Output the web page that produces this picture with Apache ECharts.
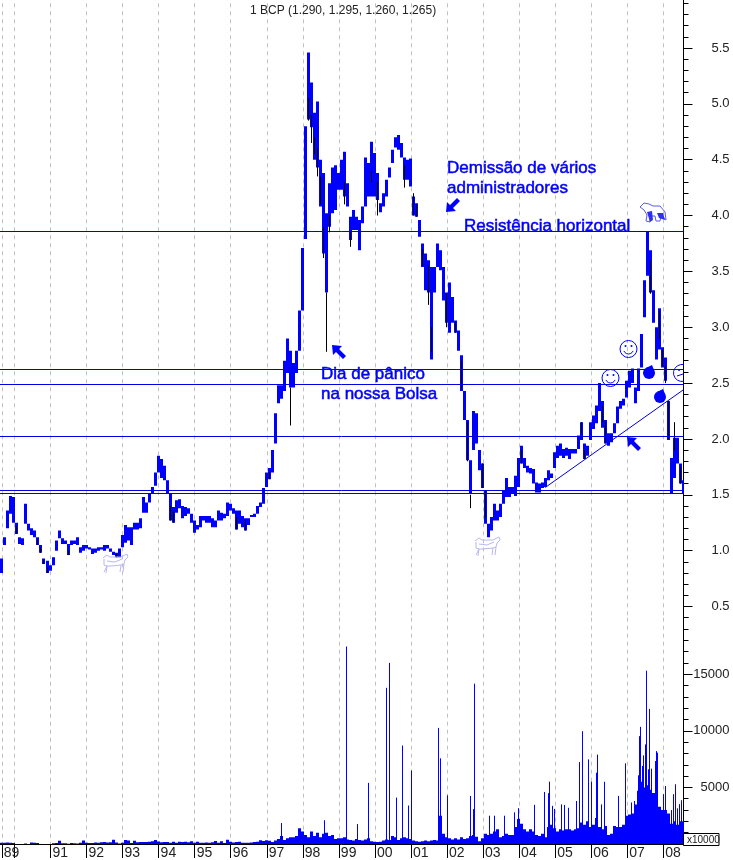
<!DOCTYPE html>
<html><head><meta charset="utf-8">
<style>html,body{margin:0;padding:0;background:#fff}#c{width:733px;height:860px}</style>
<script src="https://cdn.jsdelivr.net/npm/echarts@6/dist/echarts.min.js"></script>
</head><body><div id="c"></div>
<script>
const startYear = 1989.64, monthsPerYear = 12;
const priceHigh = [.93,1.12,1.36,1.49,1.48,1.25,1.12,1.11,1.42,1.24,1.20,1.18,1.12,1.05,.93,.91,.87,.94,1.09,1.18,1.11,1.09,1.06,1.09,1.09,1.12,1.03,1.05,1.05,1.03,1.02,1.02,1.03,1.03,1.05,1.05,1.02,.99,.98,1.02,1.14,1.23,1.21,1.21,1.25,1.25,1.29,1.48,1.43,1.51,1.57,1.70,1.85,1.82,1.76,1.63,1.51,1.39,1.45,1.46,1.40,1.39,1.38,1.33,1.27,1.23,1.31,1.31,1.31,1.31,1.29,1.27,1.36,1.34,1.33,1.43,1.42,1.38,1.36,1.36,1.31,1.29,1.29,1.32,1.33,1.40,1.43,1.56,1.70,1.74,1.90,2.23,2.48,2.48,2.70,2.90,2.79,2.68,2.79,3.15,3.71,4.80,5.46,5.19,4.92,5.02,4.50,4.38,4.02,4.29,4.43,4.45,4.38,4.50,4.57,4.29,3.99,4.05,3.99,3.96,4.08,4.52,4.47,4.66,4.56,4.38,4.11,4.20,4.32,4.43,4.59,4.70,4.72,4.65,4.52,4.50,4.51,4.17,4.11,3.96,3.75,3.66,3.60,3.54,3.54,3.75,3.69,3.54,3.31,3.40,3.27,3.06,2.97,2.75,2.43,2.17,1.81,2.25,2.23,1.90,1.78,1.54,1.24,1.30,1.42,1.36,1.42,1.54,1.65,1.57,1.57,1.67,1.83,1.94,1.83,1.76,1.74,1.73,1.61,1.60,1.61,1.65,1.72,1.69,1.88,1.94,1.96,1.91,1.92,1.91,1.91,1.91,2.03,2.15,1.96,1.94,2.15,2.21,2.30,2.50,2.34,2.17,2.05,2.05,2.14,2.29,2.34,2.36,2.52,2.61,2.63,2.46,2.63,2.94,3.42,3.86,3.69,3.33,3.00,3.17,2.82,2.73,2.34,1.83,2.01,2.01,1.78,1.63];
const priceLow = [.80,1.05,1.20,1.33,1.25,1.15,1.06,1.05,1.24,1.18,1.14,1.12,1.05,.98,.88,.80,.82,.87,1.0,1.11,1.06,1.06,.96,1.05,1.06,1.05,.98,1.0,1.02,1.01,.97,.98,1.0,1.01,1.0,1.02,.99,.96,.94,.94,1.03,1.07,1.09,1.05,1.19,1.19,1.20,1.34,1.34,1.43,1.51,1.58,1.70,1.65,1.63,1.51,1.27,1.25,1.34,1.38,1.29,1.31,1.33,1.25,1.16,1.19,1.21,1.27,1.25,1.25,1.21,1.21,1.27,1.27,1.29,1.31,1.36,1.33,1.19,1.24,1.21,1.18,1.23,1.30,1.30,1.33,1.39,1.42,1.57,1.64,1.70,1.96,2.32,2.36,2.43,2.59,2.46,2.46,2.59,2.79,3.15,3.79,4.86,4.79,4.50,4.43,4.08,3.66,3.31,3.90,4.02,4.05,4.23,4.23,4.17,4.08,3.78,3.87,3.87,3.69,3.93,4.08,4.17,4.17,4.17,4.14,4.03,4.08,4.17,4.34,4.47,4.61,4.59,4.52,4.32,4.32,4.26,4.00,3.99,3.81,3.54,3.33,3.31,2.71,3.31,3.54,3.51,3.24,3.04,2.95,3.04,2.95,2.79,2.43,2.17,1.81,1.51,1.90,1.96,1.72,1.56,1.24,1.12,1.18,1.27,1.27,1.30,1.42,1.48,1.48,1.51,1.49,1.57,1.78,1.74,1.70,1.69,1.60,1.52,1.52,1.56,1.57,1.63,1.65,1.74,1.83,1.85,1.83,1.85,1.82,1.87,1.87,1.91,1.99,1.82,1.85,1.99,2.09,2.14,2.25,2.10,1.96,1.94,1.97,2.05,2.14,2.27,2.30,2.37,2.46,2.50,2.32,2.43,2.64,3.09,3.46,3.31,3.04,2.71,2.80,2.64,2.52,1.99,1.51,1.65,1.78,1.60,1.51];
const blackMonth = [5,12,13,14,15,22,38,56,57,78,81,89,96,102,103,104,105,106,107,108,109,114,116,123,125,134,137,138,140,142,143,148,151,153,155,156,160,161,173,193,194,200,201,216,219,220,221,222,224,226,227];
const blackHigh = [1.22,1.10,1.03,.92,.85,1.0,.97,1.40,1.35,1.30,1.27,1.70,2.46,5.05,4.90,4.70,4.60,4.35,3.90,3.31,4.00,4.30,3.85,4.40,4.30,4.45,4.20,4.10,3.70,3.55,3.00,3.30,3.05,2.70,2.15,1.50,1.78,1.54,1.90,2.15,1.90,2.30,2.15,3.60,3.15,2.80,2.65,2.34,2.15,1.75,1.50];
const blackLow = [1.15,1.05,.98,.88,.80,.96,.94,1.27,1.25,1.19,1.18,1.64,2.12,4.85,4.65,4.55,4.35,4.10,3.62,2.78,3.85,4.10,3.72,4.30,4.00,4.25,4.00,3.99,3.55,3.20,2.78,3.00,2.95,2.45,1.80,1.38,1.56,1.30,1.78,2.05,1.82,2.15,1.96,3.30,2.90,2.65,2.50,2.00,1.90,1.60,1.26];
const volumeBase = [120,100,140,100,90,0,0,0,40,0,130,110,90,0,0,0,0,60,90,280,70,60,30,90,60,50,120,300,100,90,90,130,120,150,180,130,160,380,130,40,120,350,300,80,280,150,170,170,170,190,250,350,220,150,170,170,120,200,120,200,180,200,150,250,110,200,120,100,140,120,150,260,100,250,90,380,200,130,170,200,120,100,110,140,180,200,330,260,330,280,180,320,450,700,350,500,600,600,700,1400,1100,800,600,1100,700,1000,600,900,1000,700,800,450,500,500,600,400,350,300,450,350,300,400,500,250,200,180,200,300,400,350,700,600,350,500,600,500,450,300,250,200,250,300,250,300,350,300,2500,900,600,500,400,500,400,600,450,500,700,800,650,250,500,900,800,900,1100,1300,600,700,900,800,800,1500,2200,1800,1300,1100,1300,1100,800,700,900,600,1500,1700,1400,1100,1300,1200,1300,1300,1200,1300,1400,1900,1700,2000,1500,1700,2300,1500,1300,1600,800,900,1600,1500,1500,1700,2500,2600,2700,3500,4700,5500,5000,5200,4800,4500,3800,3300,3000,3000,2700,1800,2000,1700,2000,2000];
const spikeMonth = [93,107.33,114.67,118.33,122.17,128,129,131.33,133.33,135.33,136.33,145.33,146,148.33,156,157,157.33,162.33,164,167.33,170.67,172,177.33,180.67,182,182.33,183.33,184,186.33,187.33,188.67,191.33,192.33,193.33,195.33,196.33,198,198.33,199.67,200.67,205.33,207.67,209.67,210.67,212,212.33,212.67,213.33,213.67,214.33,214.67,215.33,215.67,216.33,217.67,218,218.33,220.33,221,223,223.67,224.33,225,225.67,226.33];
const spikeVolume = [1850,2100,17450,1760,5400,13800,16000,4100,8700,3400,6500,10260,7570,4300,4250,3080,14170,2500,2500,2500,2800,3170,3460,4600,4490,5510,3370,3100,3500,3450,3200,3800,7240,9970,7480,5510,6300,7900,3500,5500,4250,7130,3670,3800,6070,9530,10350,6900,7830,8800,15310,6600,11940,6660,7330,8210,8070,4400,5130,3000,4400,5280,3150,3520,3870];
const levels = [3.859,2.628,2.494,2.028,1.545,1.518];
const trendMonths = [181,227], trendPrices = [1.565,2.44];
const yearTicks = [1989.65,1990,1991,1992,1993,1994,1995,1996,1997,1998,1999,2000,2001,2002,2003,2004,2005,2006,2007,2008];
const yearLabels = [1989.65,1991,1992,1993,1994,1995,1996,1997,1998,1999,2000,2001,2002,2003,2004,2005,2006,2007,2008];
const priceLabels = [.5,1,1.5,2,2.5,3,3.5,4,4.5,5,5.5];
const volumeLabels = [5000,10000,15000];
const title = '1 BCP (1.290, 1.295, 1.260, 1.265)';
const BLUE = '#0000ff', LINE='#0000e0', FONT='"Liberation Sans", Arial, sans-serif';
const yr = m => startYear + m/monthsPerYear;

function rangeSeries(name, xi, yi, rows, color, w, z){
  return {name, type:'custom', xAxisIndex:xi, yAxisIndex:yi, z, clip:true, animation:false, silent:true,
    encode:{x:0,y:[1,2]}, data:rows,
    renderItem(p, api){
      const a = api.coord([api.value(0), api.value(1)]), b = api.coord([api.value(0), api.value(2)]);
      const x = Math.round(a[0]) + (w%2 ? .5 : 0);
      return {type:'line', shape:{x1:x,y1:a[1],x2:x,y2:b[1]}, style:{stroke:color, lineWidth:w, fill:null}};
    }};
}
const blueRows = priceHigh.map((h,i)=>[yr(i),h,priceLow[i]]);
const blackRows = blackMonth.map((m,i)=>[yr(m),blackHigh[i],blackLow[i]]);
const volRows = volumeBase.map((v,i)=>[yr(i),v,0]);
const spikeRows = spikeMonth.map((m,i)=>[yr(m),spikeVolume[i],0]);
const XMIN = 1989.6, XMAX = 2008.56;

const levelSeries = {type:'custom', xAxisIndex:0, yAxisIndex:0, z:6, silent:true, animation:false, clip:true,
  encode:{y:0}, data:levels.map(v=>[v]),
  renderItem(p, api){
    const a = api.coord([XMIN, api.value(0)]), b = api.coord([XMAX, api.value(0)]);
    const y = Math.round(a[1]) + .5;
    return {type:'line', shape:{x1:a[0],y1:y,x2:b[0],y2:y}, style:{stroke:LINE, lineWidth:1, fill:null}};
  }};
const trendSeries = {type:'line', xAxisIndex:0, yAxisIndex:0, z:6, silent:true, animation:false, symbol:'none',
  data:trendMonths.map((m,i)=>[yr(m),trendPrices[i]]), lineStyle:{color:LINE,width:1}};

const splitLine = {show:true, lineStyle:{color:'#c0c0c0', width:1, type:[4,4]}};
const axisBlack = {show:true, lineStyle:{color:'#000', width:1}};
const lab = {color:'#222', fontFamily:FONT, fontSize:13, align:'right', margin:46};

function yPair(grid, min, max, interval, labels, fmt){
  return [
    {type:'value', gridIndex:grid, position:'right', min, max, interval, splitLine:{show:false},
      axisLine:axisBlack, axisTick:{show:true,length:5,inside:false,lineStyle:{color:'#000'}}, axisLabel:{show:false}},
    {type:'value', gridIndex:grid, position:'right', min, max, interval, splitLine:{show:false},
      axisLine:{show:false}, axisTick:{show:true,length:9,customValues:labels,lineStyle:{color:'#000'}},
      axisLabel:{show:true, customValues:labels, formatter:fmt, ...lab}}
  ];
}
const series = [
  rangeSeries('Volume',1,2,volRows,BLUE,3,3),
  rangeSeries('Spikes',1,2,spikeRows,BLUE,1,3),
  rangeSeries('Price',0,0,blueRows,BLUE,3,4),
  rangeSeries('Down',0,0,blackRows,'#000',1,5),
  levelSeries, trendSeries
];

// annotation shapes
const txt = (x,y,t) => ({type:'text', x, y, z:20, silent:true, style:{text:t, fill:BLUE, font:'17px '+FONT, stroke:BLUE, lineWidth:.5, textVerticalAlign:'middle'}});
const poly = (x,y,pts,fill) => ({type:'polygon', x, y, z:20, silent:true, shape:{points:pts}, style:{fill}});
const pl = (x,y,pts,stroke) => ({type:'polyline', x, y, z:20, silent:true, shape:{points:pts}, style:{fill:'none', stroke, lineWidth:1}});
const arrowUL = [[0,0],[10,1],[7,4],[14,11],[11,14],[4,7],[1,10]];
const arrowDL = [[0,14],[10,13],[7,10],[14,3],[11,0],[4,7],[1,4]];
const cow = (x,y,c) => [
  [[0,4],[4,1],[7,3],[18,3],[24,0],[25,3],[22,6],[21,10],[20,18]],
  [[21,10],[18,11],[17,18]],
  [[18,11],[8,12],[4,12],[3,19]],
  [[4,12],[1,18]],
  [[1,5],[1,11],[4,12]],
  [[4,7],[12,8],[19,5]]
].map(p=>pl(x,y,p,c));
const smile = (x,y) => [
  {type:'circle', z:20, silent:true, shape:{cx:x,cy:y,r:8.5}, style:{fill:'none',stroke:BLUE,lineWidth:1}},
  {type:'circle', z:20, silent:true, shape:{cx:x-3,cy:y-3,r:1}, style:{fill:BLUE}},
  {type:'circle', z:20, silent:true, shape:{cx:x+3,cy:y-3,r:1}, style:{fill:BLUE}},
  {type:'arc', z:20, silent:true, shape:{cx:x,cy:y,r:5,startAngle:.4,endAngle:Math.PI-.4}, style:{fill:'none',stroke:BLUE,lineWidth:1}}
];
const blob = (x,y) => [
  {type:'circle', z:20, silent:true, shape:{cx:x,cy:y,r:6}, style:{fill:BLUE}},
  poly(x,y,[[-3,-5],[3,-8],[5,-3]],BLUE)
];
const graphic = [
  {type:'text', x:250, y:11, z:20, silent:true, style:{text:title, fill:'#222', font:'12px '+FONT, textVerticalAlign:'middle'}},
  txt(447,168,'Demissão de vários'), txt(447,188,'administradores'), txt(464,226,'Resistência horizontal'),
  txt(321,374,'Dia de pânico'), txt(321,394,'na nossa Bolsa'),
  poly(332,345,arrowUL,BLUE), poly(627,437,arrowUL,BLUE), poly(446,198,arrowDL,BLUE),
  ...cow(103,554,'#b8b8f0'), ...cow(475,537,'#b8b8f0'),
  pl(640,203,[[0,4],[4,0],[9,1],[13,3],[20,3],[25,9],[26,17],[21,13],[20,18],[16,18],[15,13],[10,13],[10,19],[6,18],[7,12],[4,7],[0,4]],'#5a5af5'),
  poly(647,208,[[0,4],[5,3],[6,12],[3,14]],'#3030f0'), poly(657,208,[[0,5],[6,5],[8,12],[2,10]],'#3030f0'),
  ...smile(628.5,349), ...smile(610.5,378),
  {type:'arc', z:20, silent:true, shape:{cx:682,cy:373,r:8.5,startAngle:Math.PI/2-.2,endAngle:Math.PI*1.5+.2}, style:{fill:'none',stroke:BLUE,lineWidth:1}},
  {type:'circle', z:20, silent:true, shape:{cx:679,cy:370,r:1}, style:{fill:BLUE}},
  pl(677,376,[[0,0],[6,-2]],BLUE),
  ...blob(649,373), ...blob(660,397),
  {type:'line', z:20, silent:true, shape:{x1:683.5,y1:0,x2:683.5,y2:4}, style:{stroke:'#000',lineWidth:1}},
  {type:'rect', z:20, silent:true, shape:{x:683.5,y:833.5,width:35.5,height:12}, style:{fill:'#fff',stroke:'#000',lineWidth:1}},
  {type:'text', x:687, y:840, z:21, silent:true, style:{text:'x10000', fill:'#222', font:'10px '+FONT, textVerticalAlign:'middle'}}
];

const option = {
  backgroundColor:'#fff', animation:false,
  grid:[
    {left:0, right:49.5, top:3.3, height:614.35},
    {left:0, right:49.5, top:617.65, height:227.35}
  ],
  xAxis:[
    {type:'value', gridIndex:0, min:XMIN, max:XMAX, axisLine:{show:false}, axisLabel:{show:false},
     axisTick:{show:false, customValues:yearTicks}, splitLine},
    {type:'value', gridIndex:1, min:XMIN, max:XMAX, position:'bottom', axisLine:axisBlack, splitLine,
     axisTick:{show:true, length:14, customValues:yearTicks, lineStyle:{color:'#000'}},
     axisLabel:{show:true, customValues:yearLabels, color:'#222', fontFamily:FONT, fontSize:14, align:'left', margin:2, padding:[0,0,0,2],
       hideOverlap:false, formatter:v=>String(Math.floor(v)).slice(2)}}
  ],
  yAxis:[
    ...yPair(0,.4,5.9,.1,priceLabels,v=>v.toFixed(1)),
    ...yPair(1,0,20000,1000,volumeLabels,v=>String(v))
  ],
  series, graphic
};
echarts.init(document.getElementById('c'),null,{renderer:'canvas'}).setOption(option);
</script></body></html>
